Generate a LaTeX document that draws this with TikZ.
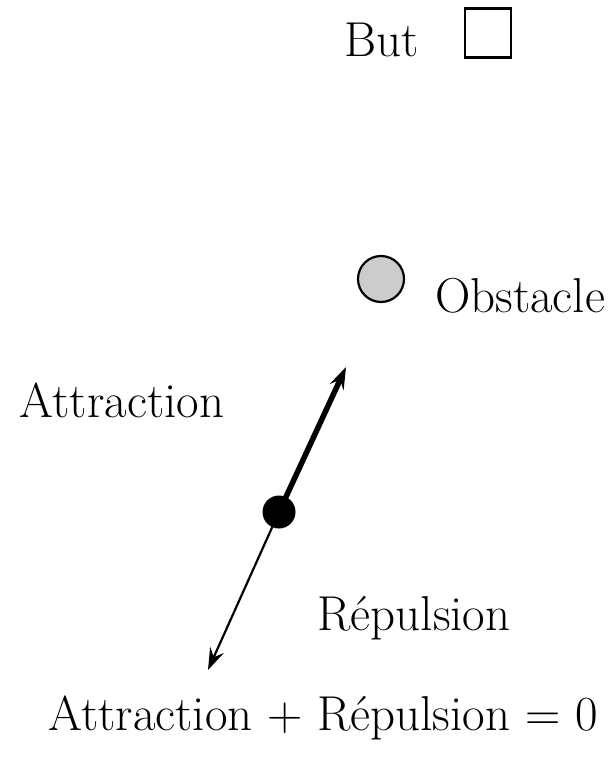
\documentclass[tikz,border=0pt]{standalone}
\usepackage{tikz}
\usetikzlibrary{arrows.meta,positioning}
\definecolor{obstaclegray}{rgb}{0.80,0.80,0.80}
\tikzset{
  etiquette/.style={
    inner sep=0pt,
    font=\fontsize{49}{53}\selectfont
  },
  but/.style={
    draw=black,
    line width=2.2pt,
    minimum width=46pt,
    minimum height=49pt,
    inner sep=0pt
  },
  obstacle/.style={
    circle,
    draw=black,
    line width=2.2pt,
    fill=obstaclegray,
    minimum size=46pt,
    inner sep=0pt
  },
  robot/.style={
    circle,
    fill=black,
    minimum size=33pt,
    inner sep=0pt
  },
  fleche/.style={
    -{Stealth[length=22pt,width=15pt,inset=8pt]}
  }
}
\begin{document}
\begin{tikzpicture}[x=1pt,y=-1pt]
\useasboundingbox (0,0) rectangle (615,759);
\node[etiquette] (tbut) at (382,40) {But};
\node[but] (cible) at (488,33) {};
\node[obstacle] (obs) at (381,279) {};
\node[etiquette] (tobs) at (520,296) {Obstacle};
\node[etiquette] (tatt) at (122,400) {Attraction};
\node[etiquette] (trep) at (414,618) {Répulsion};
\node[etiquette] (tsomme) at (323,718) {Attraction + Répulsion = 0};
\coordinate (pa) at (346,367);
\coordinate (pr) at (208,670);
\coordinate (centre) at (279,512);
\draw[fleche,line width=5.5pt] (centre) -- (pa);
\draw[fleche,line width=2.2pt] (centre) -- (pr);
\node[robot] (r) at (centre) {};
\end{tikzpicture}
\end{document}
